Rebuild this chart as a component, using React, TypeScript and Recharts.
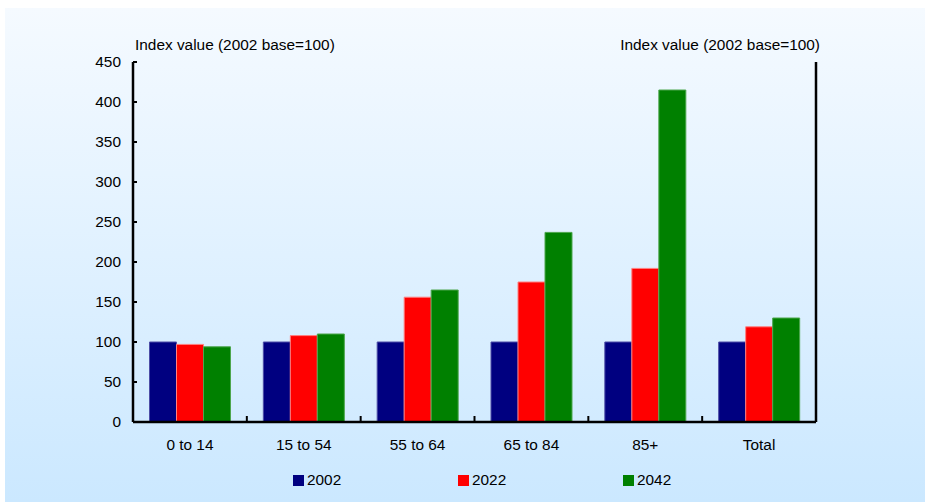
import { BarChart, Bar, XAxis, YAxis, Legend } from 'recharts'

const categories = ['0 to 14', '15 to 54', '55 to 64', '65 to 84', '85+', 'Total']
const y2002 = [100, 100, 100, 100, 100, 100]
const y2022 = [97, 108, 156, 175, 192, 119]
const y2042 = [94, 110, 165, 237, 415, 130]
const yTicks = [0, 50, 100, 150, 200, 250, 300, 350, 400, 450]

const series = [
  { key: 'y2002', label: '2002', color: '#000080', edge: '#4d4da6' },
  { key: 'y2022', label: '2022', color: '#FF0000', edge: '#ff8080' },
  { key: 'y2042', label: '2042', color: '#008000', edge: '#4da64d' },
]

const data = categories.map((c, i) => ({ cat: c, y2002: y2002[i], y2022: y2022[i], y2042: y2042[i] }))

const FONT = '"Liberation Sans", Arial, sans-serif'
const tickStyle = { fontSize: 15.4, fill: '#000', fontFamily: FONT }
const TITLE = 'Index value (2002 base=100)'

// eslint-disable-next-line @typescript-eslint/no-explicit-any
const CatTick = (p: any) => {
  const half = p.payload?.offset ?? p.width / p.visibleTicksCount / 2
  const bx = p.x - half
  return (
    <g>
      {p.index > 0 && <line x1={bx} x2={bx} y1={p.y - 17} y2={p.y - 23} stroke="#000" strokeWidth={2} />}
      <text x={p.x} y={p.y} dy="0.71em" textAnchor="middle" style={tickStyle}>{p.payload.value}</text>
    </g>
  )
}

// eslint-disable-next-line @typescript-eslint/no-explicit-any
const LeftTitle = (p: any) => (
  <text x={p.viewBox.x + p.viewBox.width + 2} y={p.viewBox.y - 12} style={tickStyle}>{TITLE}</text>
)
// eslint-disable-next-line @typescript-eslint/no-explicit-any
const RightTitle = (p: any) => (
  <text x={p.viewBox.x + 4} y={p.viewBox.y - 12} textAnchor="end" style={tickStyle}>{TITLE}</text>
)

const LegendBox = () => (
  <div style={{ display: 'flex', height: 24, alignItems: 'center', paddingLeft: 288, fontFamily: FONT, fontSize: 15.4 }}>
    {series.map(s => (
      <div key={s.key} style={{ display: 'flex', alignItems: 'center', gap: 3, width: 165 }}>
        <div style={{ width: 11, height: 11, background: s.color }} />
        <span style={{ color: '#000' }}>{s.label}</span>
      </div>
    ))}
  </div>
)

export default function App() {
  return (
    <div style={{
      position: 'absolute', left: 5, top: 8, width: 920, height: 494,
      background: 'linear-gradient(to bottom, #F5FAFF 0%, #CBE8FF 100%)',
    }}>
      <BarChart width={920} height={494} data={data} barCategoryGap="14.5%" barGap={0}
        margin={{ top: 54, right: 0, left: 0, bottom: 10 }}>
        <XAxis dataKey="cat" height={46} tickLine={false} tickSize={0} tickMargin={17}
          axisLine={{ stroke: '#000', strokeWidth: 2.5 }} tick={<CatTick />} interval={0} />
        <YAxis yAxisId="left" width={128} domain={[0, 450]} ticks={yTicks} interval={0}
          tickSize={-4} tickMargin={16} tick={tickStyle}
          axisLine={{ stroke: '#000', strokeWidth: 2.5 }} tickLine={{ stroke: '#000', strokeWidth: 2 }}
          label={<LeftTitle />} />
        <YAxis yAxisId="right" orientation="right" width={109} domain={[0, 450]} ticks={yTicks} interval={0}
          tickSize={-4} tickMargin={15} tick={tickStyle}
          axisLine={{ stroke: '#000', strokeWidth: 2.5 }} tickLine={{ stroke: '#000', strokeWidth: 2 }}
          label={<RightTitle />} />
        <Legend verticalAlign="bottom" height={24} content={<LegendBox />} />
        {series.map(s => (
          <Bar key={s.key} yAxisId="left" dataKey={s.key} name={s.label} fill={s.color}
            stroke={s.edge} strokeWidth={1} isAnimationActive={false} />
        ))}
      </BarChart>
    </div>
  )
}
